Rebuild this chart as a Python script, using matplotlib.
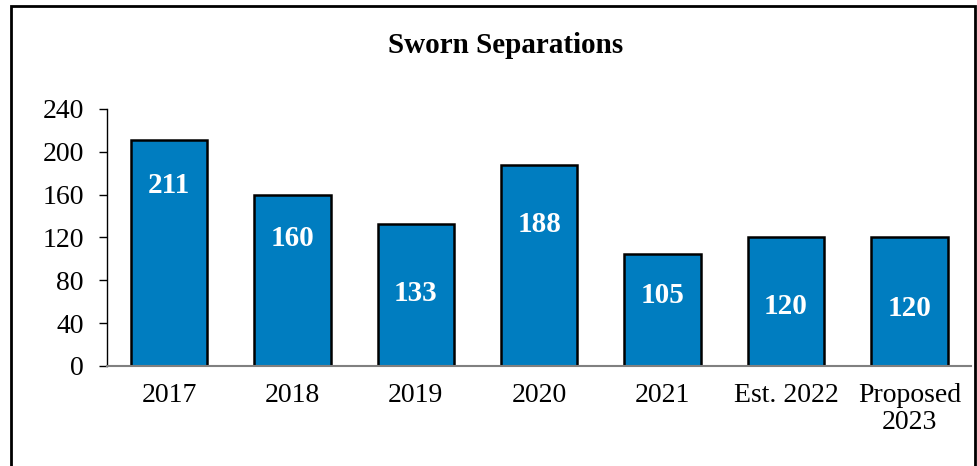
import matplotlib.pyplot as plt
from matplotlib.patches import Rectangle

categories = ['2017', '2018', '2019', '2020', '2021', 'Est. 2022', 'Proposed\n2023']
separations = [211, 160, 133, 188, 105, 120, 120]
# heights (in data units) where each value label sits inside its bar
label_heights = [169, 119, 68, 132, 66, 56, 54]

plt.rcParams['font.family'] = ['Liberation Serif', 'DejaVu Serif']

fig = plt.figure(figsize=(9.78, 4.66), dpi=100)
ax = fig.add_axes([0.1099, 0.2146, 0.8829, 0.5515])

x = range(len(categories))
ax.bar(x, separations, width=0.62, color='#007DC0', edgecolor='black', linewidth=1.8, zorder=3)

for i, (v, h) in enumerate(zip(separations, label_heights)):
    ax.text(i, h, str(v), ha='center', va='center', color='white',
            fontsize=21, fontweight='bold', zorder=4)

ax.set_xlim(-0.5, len(categories) - 0.5)
ax.set_ylim(0, 240)
ax.set_yticks(range(0, 241, 40))
ax.set_xticks(list(x))
ax.set_xticklabels(categories, fontsize=20, linespacing=1.1)
ax.tick_params(axis='y', labelsize=20, length=6, width=1, pad=11, direction='out')
ax.tick_params(axis='x', length=0, pad=12)

for s in ['top', 'right']:
    ax.spines[s].set_visible(False)
ax.spines['left'].set_linewidth(1)
ax.spines['bottom'].set_color('#808080')
ax.spines['bottom'].set_linewidth(1.5)
ax.spines['bottom'].set_zorder(5)
ax.get_yticklines()[0].set_color('#808080')

fig.text(0.517, 0.902, 'Sworn Separations', ha='center', va='center',
         fontsize=21, fontweight='bold')

# outer frame around the chart
fig.patches.append(Rectangle((0.0112, -0.02), 0.9858, 1.007, transform=fig.transFigure,
                             fill=False, edgecolor='black', linewidth=2))

fig.savefig('out.png', dpi=100)
